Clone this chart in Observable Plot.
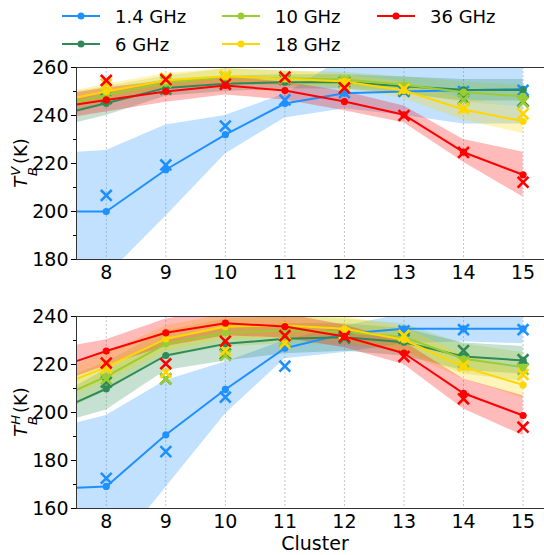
<!DOCTYPE html>
<html><head><meta charset="utf-8">
<script src="https://cdn.jsdelivr.net/npm/d3@7"></script>
<script src="https://cdn.jsdelivr.net/npm/@observablehq/plot@0.6"></script>
<style>
body{margin:0;background:#fff;font-family:"DejaVu Sans",sans-serif;}
#root{position:relative;width:544px;height:555px;overflow:hidden;background:#fff;}
#legend{position:absolute;left:0;top:0;width:544px;height:58px;font-size:18px;color:#000;}
.li{position:absolute;display:flex;align-items:center;height:24px;}
.li svg{margin-right:15px;}
.panel{position:absolute;left:0;}
#xlab{position:absolute;left:0;width:630px;text-align:center;top:531px;line-height:24px;font-size:19px;color:#000;}
</style></head><body><div id="root">
<div id="legend"></div>
<div id="top" class="panel" style="top:58px"></div>
<div id="bot" class="panel" style="top:289px"></div>
<div id="xlab">Cluster</div>
</div>
<script>
// ---------- data ----------
const clusters = [8, 9, 10, 11, 12, 13, 14, 15];
const xLine = [7.5, 8, 9, 10, 11, 12, 13, 14, 15];   // first value = left edge of axis
const freqs = ["1.4 GHz", "6 GHz", "10 GHz", "18 GHz", "36 GHz"];
const colors = ["#1e90ff", "#2e8b57", "#9acd32", "#ffd700", "#ff0000"];

// Top panel: T_B^V (K)
const vMean = {
  "1.4 GHz": [200, 200, 217.4, 232, 245, 249.3, 250, 250.5, 251],
  "6 GHz":   [242.1, 245.1, 251.5, 253.2, 253.9, 253.9, 252.2, 250.7, 250.6],
  "10 GHz":  [245.5, 248.5, 253.5, 256, 255.5, 255, 252.8, 249.7, 248],
  "18 GHz":  [247.5, 250, 254.6, 256.4, 255.3, 254.2, 250.4, 242.5, 237.6],
  "36 GHz":  [244.6, 246.5, 250, 252.5, 250.4, 245.8, 240.3, 224.7, 215.3]
};
const vLo = {
  "1.4 GHz": [158, 173, 198, 224, 239, 242.8, 240, 236.5, 236.5],
  "6 GHz":   [237, 240, 248, 250, 251, 251, 249, 246, 246],
  "10 GHz":  [241, 245, 250.5, 253, 252.5, 252, 249.5, 245.5, 243.5],
  "18 GHz":  [244.5, 247, 251.5, 253.5, 252.5, 251.5, 247, 238, 232.5],
  "36 GHz":  [239.5, 241.5, 245.5, 248.5, 246.5, 242, 237, 220.5, 206]
};
const vHi = {
  "1.4 GHz": [224.7, 225.4, 236, 240, 249, 264, 268, 268, 268],
  "6 GHz":   [247, 250, 255, 256.5, 257, 257, 256, 255, 255],
  "10 GHz":  [250, 252, 256.5, 259.5, 258.5, 258, 256, 254, 252.5],
  "18 GHz":  [250.5, 253, 257.5, 259.5, 258.5, 257, 254, 247, 243],
  "36 GHz":  [249.5, 251.5, 254.5, 256, 254, 250, 244, 230, 224.7]
};
const vCross = {
  "1.4 GHz": [206.7, 219.4, 235.6, 246.5, 249.5, 250, 250, 250.5],
  "6 GHz":   [247, 251, 254, 255, 254, 250.5, 247, 246],
  "10 GHz":  [249, 254, 256, 255.5, 254.5, 251.5, 246.5, 245.5],
  "18 GHz":  [253, 255.5, 256.5, 256, 253, 251, 243, 240.7],
  "36 GHz":  [254.6, 255, 253, 256, 251.5, 240, 224.6, 212.2]
};

// Bottom panel: T_B^H (K)
const hMean = {
  "1.4 GHz": [168.6, 169.2, 190.7, 209.6, 226.8, 232.8, 234.9, 234.9, 234.9],
  "6 GHz":   [204.3, 209.9, 223.75, 228.6, 230.7, 231.4, 229.3, 223.3, 221.7],
  "10 GHz":  [209.4, 215, 228.6, 233.2, 234.2, 233.5, 231.4, 222.4, 218.9],
  "18 GHz":  [214, 218.9, 230.7, 235.8, 236.25, 234.9, 230.3, 218.9, 211.5],
  "36 GHz":  [221.4, 225.6, 233.2, 237.2, 235.8, 231.7, 224.7, 208, 198.75]
};
const hLo = {
  "1.4 GHz": [120, 138, 168.8, 199.4, 222.4, 225, 228.6, 229.5, 228.6],
  "6 GHz":   [197.5, 201, 217.5, 221.5, 224.5, 225.5, 223.5, 217.5, 216],
  "10 GHz":  [203, 209, 223, 227.5, 228.5, 228, 225.5, 216, 213],
  "18 GHz":  [208, 213, 225.5, 230.5, 231, 229.5, 225, 214, 206],
  "36 GHz":  [215, 219.5, 227.5, 232, 231, 227, 220, 201.5, 190.4]
};
const hHi = {
  "1.4 GHz": [195.6, 198.75, 213.3, 221, 230, 236, 241, 241, 241],
  "6 GHz":   [211, 218, 230, 235, 237, 237, 235, 229, 227.5],
  "10 GHz":  [216, 221, 234, 239, 240, 239, 237, 228.5, 225],
  "18 GHz":  [220, 225, 236, 241, 241.5, 240, 235.5, 224, 217],
  "36 GHz":  [228, 230.3, 239, 243, 241, 236.5, 229.5, 214, 207]
};
const hCross = {
  "1.4 GHz": [172.6, 183.7, 206.4, 219.3, 231.4, 234, 234.5, 234.5],
  "6 GHz":   [212.6, 214, 224.4, 229, 231, 231, 225.8, 222],
  "10 GHz":  [214, 214, 223.75, 230, 232, 232, 221, 218],
  "18 GHz":  [218.5, 216.8, 225.8, 228.9, 233, 232, 219.6, 215.8],
  "36 GHz":  [220.6, 220.3, 229.7, 232, 231.7, 223.3, 205.7, 193.9]
};

const vTicks = [180, 200, 220, 240, 260];
const vMinor = [190, 210, 230, 250];
const hTicks = [160, 180, 200, 220, 240];
const hMinor = [170, 190, 210, 230];

// ---------- legend ----------
const legendPos = [
  {f: "1.4 GHz", left: 62, top: 4}, {f: "10 GHz", left: 222, top: 4}, {f: "36 GHz", left: 377, top: 4},
  {f: "6 GHz", left: 62, top: 32}, {f: "18 GHz", left: 222, top: 32}
];
const leg = document.getElementById("legend");
for (const p of legendPos) {
  const c = colors[freqs.indexOf(p.f)];
  const d = document.createElement("div");
  d.className = "li";
  d.style.left = p.left + "px"; d.style.top = p.top + "px";
  d.innerHTML = `<svg width="38" height="10"><line x1="0" x2="38" y1="5" y2="5" stroke="${c}" stroke-width="2"/><circle cx="19" cy="5" r="3.5" fill="${c}"/></svg><span>${p.f}</span>`;
  leg.appendChild(d);
}

// ---------- panels ----------
function buildRows(mean, lo, hi) {
  const rows = [];
  for (const f of freqs) xLine.forEach((x, i) => rows.push({x, f, mean: mean[f][i], lo: lo[f][i], hi: hi[f][i]}));
  return rows;
}
function buildCross(cr) {
  const rows = [];
  for (const f of freqs) clusters.forEach((x, i) => rows.push({x, f, v: cr[f][i]}));
  return rows;
}

function panel({mean, lo, hi, cross, yDomain, yTicks, yMinor, marginTop, marginBottom, height, sup}) {
  const rows = buildRows(mean, lo, hi);
  const crossRows = buildCross(cross);
  const marks = [
    Plot.gridX(clusters, {stroke: "#b8b8b8", strokeOpacity: 1, strokeWidth: 0.8, strokeDasharray: "2,2"}),
    Plot.axisX(clusters, {tickSize: 0, tickPadding: 6, tickFormat: d => d, label: null, fontSize: 19}),
    Plot.axisY(yTicks, {tickSize: 5, tickPadding: 3, label: null, fontSize: 19}),
    Plot.axisY(yMinor, {tickSize: 3, text: null, label: null}),
  ];
  for (const f of freqs) {
    marks.push(Plot.areaY(rows.filter(r => r.f === f), {x: "x", y1: "lo", y2: "hi", fill: colors[freqs.indexOf(f)], fillOpacity: 0.27, clip: true}));
  }
  for (const f of freqs) {
    const c = colors[freqs.indexOf(f)];
    const sr = rows.filter(r => r.f === f);
    marks.push(Plot.line(sr, {x: "x", y: "mean", stroke: c, strokeWidth: 2, clip: true}));
    marks.push(Plot.dot(sr.filter(r => r.x >= 8), {x: "x", y: "mean", fill: c, r: 3.6, clip: true}));
    marks.push(Plot.dot(crossRows.filter(r => r.f === f), {x: "x", y: "v", symbol: "times", stroke: c, strokeWidth: 2.6, r: 5, clip: true}));
  }
  marks.push(Plot.frame({stroke: "#333", strokeWidth: 1}));
  const svg = Plot.plot({
    width: 544, height, marginLeft: 76, marginRight: 0, marginTop, marginBottom,
    style: {fontFamily: "DejaVu Sans", fontSize: "19px", color: "#000", background: "transparent", overflow: "visible"},
    x: {domain: [7.5, 15.36]},
    y: {domain: yDomain},
    marks
  });
  // y axis label with stacked sub/superscript: T_B^sup (K)
  const cy = marginTop + (height - marginTop - marginBottom) / 2;
  const t = d3.select(svg).append("text")
    .attr("transform", `translate(27,${cy}) rotate(-90)`)
    .attr("text-anchor", "middle")
    .attr("font-family", "DejaVu Sans").attr("font-size", 18).attr("fill", "#000");
  t.append("tspan").attr("font-style", "italic").text("T");
  t.append("tspan").attr("font-style", "italic").attr("font-size", 13).attr("dy", -7).attr("dx", 1).text(sup);
  t.append("tspan").attr("font-style", "italic").attr("font-size", 13).attr("dx", sup === "V" ? -9 : -10).attr("dy", 17).text("B");
  t.append("tspan").attr("dy", -10).attr("dx", 3).text("(K)");
  return svg;
}

document.getElementById("top").appendChild(panel({
  mean: vMean, lo: vLo, hi: vHi, cross: vCross, yDomain: [180, 260], yTicks: vTicks, yMinor: vMinor,
  marginTop: 9, marginBottom: 30, height: 231, sup: "V"
}));
document.getElementById("bot").appendChild(panel({
  mean: hMean, lo: hLo, hi: hHi, cross: hCross, yDomain: [160, 240], yTicks: hTicks, yMinor: hMinor,
  marginTop: 27, marginBottom: 47, height: 266, sup: "H"
}));
</script>
</body></html>
